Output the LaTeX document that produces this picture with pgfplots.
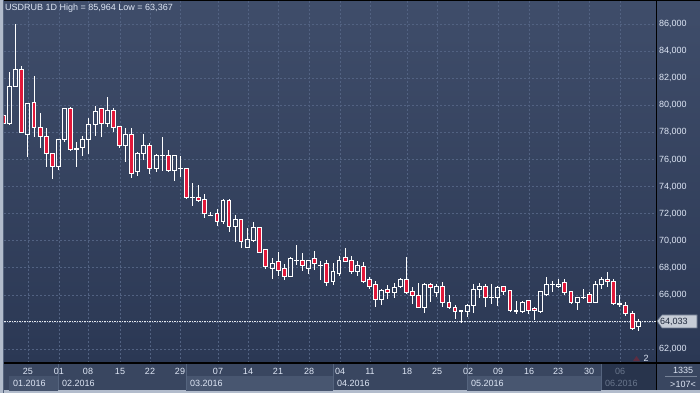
\documentclass[border=0pt]{standalone}
\usepackage{fontspec}
\setmainfont{Liberation Sans}
\usepackage{pgfplots}
\pgfplotsset{compat=1.18}
\usepackage{pgfplotstable}
\definecolor{bgtop}{RGB}{63,77,106}
\definecolor{bgbot}{RGB}{43,56,84}
\definecolor{gridc}{RGB}{82,98,130}
\definecolor{txt}{RGB}{222,230,245}
\definecolor{candred}{RGB}{226,24,58}
\definecolor{band}{RGB}{57,70,96}
\definecolor{bandlight}{RGB}{72,86,112}
\definecolor{banddark}{RGB}{40,52,76}
\definecolor{frame}{RGB}{178,188,204}
\definecolor{greytxt}{RGB}{105,118,140}
\definecolor{divider}{RGB}{85,100,126}
\definecolor{tagfill}{RGB}{198,204,214}
\definecolor{tagtxt}{RGB}{28,38,58}
\definecolor{markc}{RGB}{95,45,65}

\pgfplotstableread{
x o h l c
4 79.28 79.35 78.60 78.69
9.5 78.62 82.46 78.55 81.35
15.3 81.35 85.964 81.35 82.61
21.3 82.61 82.90 77.96 77.96
27.3 77.88 80.17 76.18 80.10
34 80.17 82.16 77.66 78.33
40.3 78.33 79.43 76.85 77.66
46.3 77.66 78.33 75.45 76.41
52.3 76.41 76.41 74.56 75.45
58.3 75.45 77.51 75.23 77.44
64.3 77.44 79.80 77.29 79.73
70.3 79.73 79.87 76.63 76.70
76.3 76.80 77.29 75.45 76.75
82.3 76.85 77.73 76.26 77.51
88.3 77.51 79.06 76.41 78.55
95.3 78.55 79.95 77.73 79.51
101.3 79.73 79.80 77.66 78.62
107.3 78.62 80.61 78.40 79.65
113.3 79.65 79.80 78.03 78.33
119.3 78.40 78.40 76.85 77.00
125.3 77.00 78.33 75.82 77.88
131.7 77.88 78.33 74.64 75.00
137.3 75.08 76.55 74.78 76.41
143.3 76.41 77.88 75.96 77.00
149.3 77.00 77.22 74.93 75.30
156.3 75.30 76.41 75.08 76.33
162.3 76.26 77.66 75.15 76.30
168.3 76.26 76.70 75.08 75.15
174.3 75.15 76.26 74.41 76.26
180.3 75.30 76.26 74.71 75.33
186.3 75.30 75.30 73.09 73.16
192.3 73.23 74.27 72.57 73.20
198.3 73.16 74.12 72.86 72.94
204.3 73.01 73.45 71.68 71.98
210.3 71.90 72.13 71.83 71.88
217 72.05 72.35 71.09 71.39
223 71.39 73.09 71.24 72.94
229 72.94 73.09 70.65 71.02
235.3 71.02 71.90 69.91 71.54
241 71.54 71.61 69.47 69.91
247.3 69.54 70.95 69.54 70.06
253.3 69.99 71.39 69.91 70.95
259.3 70.95 71.02 69.10 69.17
265.3 69.32 69.40 67.92 68.07
272.3 67.99 68.73 67.18 68.36
278.3 68.44 69.17 67.40 67.77
284.3 67.92 68.29 67.11 67.40
290.3 67.40 68.80 67.33 68.66
296.3 68.58 69.69 68.21 68.55
302.3 68.51 69.10 67.77 68.14
308.3 67.92 68.58 67.55 68.58
314.3 68.66 69.25 67.85 68.29
320.3 68.21 68.51 67.11 68.19
326.3 68.29 68.58 66.66 66.89
333 67.03 68.36 66.74 67.70
339 67.62 68.88 67.40 68.58
345.3 68.73 69.47 68.44 68.44
351.3 68.51 68.88 67.55 67.70
357.3 67.70 68.51 67.40 68.14
363.3 68.07 68.44 66.89 67.03
369.3 67.11 67.33 66.44 66.59
375.3 66.74 67.03 65.11 65.63
381.3 65.63 66.44 65.26 66.30
387.3 66.37 66.74 65.71 66.15
394.3 66.15 66.89 65.78 66.52
400.3 66.59 67.25 66.52 67.11
406.3 67.11 68.80 66.07 66.15
412.3 66.22 66.59 65.34 65.93
418.3 65.93 66.89 65.04 65.11
424.3 65.11 66.89 64.67 66.74
430.3 66.74 66.89 65.48 66.52
436.3 66.15 66.81 65.85 66.59
442.3 66.59 66.96 65.11 65.41
449 65.48 66.00 64.97 65.04
455 65.11 65.26 64.23 64.75
461 64.82 64.89 63.93 64.80
467.3 64.75 65.34 64.38 65.26
473.3 65.26 66.81 64.67 66.37
479.3 66.44 66.89 65.78 66.59
485.3 66.59 66.81 65.11 65.85
491.3 65.85 66.81 65.34 65.83
497.3 65.78 66.66 65.19 66.52
503.3 66.59 66.66 66.00 66.22
510 66.30 66.37 64.75 64.89
516 64.82 65.56 64.60 64.80
522.3 64.75 65.56 64.67 65.48
528.3 65.56 65.63 64.60 64.82
534.3 64.97 65.11 64.16 64.82
540.3 64.75 66.22 64.67 66.22
546.3 66.07 67.33 65.93 66.74
552.3 66.81 67.03 66.22 66.79
558.3 66.66 67.18 66.52 66.81
564.3 66.89 67.18 66.00 66.15
571 66.22 66.30 65.34 65.41
577.3 65.41 65.85 64.89 65.85
583.3 65.85 66.44 65.71 65.83
589.3 66.07 66.22 65.41 65.48
595.3 65.48 67.03 65.48 66.74
601.3 66.74 67.33 66.44 67.11
607.3 67.11 67.70 66.59 66.96
613.3 66.96 67.18 65.26 65.34
619.3 65.34 66.00 65.11 65.32
625.3 65.26 65.48 64.45 64.67
632.3 64.67 64.82 63.42 63.56
638.3 63.64 64.23 63.367 64.033
}\ohlc

\pgfplotsset{
  common/.style={
    scale only axis, width=652pt, height=363pt,
    at={(4pt,30pt)}, anchor=south west,
    xmin=4, xmax=656, ymin=60.98, ymax=87.77,
    enlargelimits=false,
  }
}

\begin{document}
\begin{tikzpicture}[x=1pt,y=1pt]
\useasboundingbox (0,0) rectangle (700,393);
\fill[frame] (0,0) rectangle (700,393);
\fill[divider] (3,0) rectangle (4,393);
\shade[top color=bgtop, bottom color=bgbot] (4,30) rectangle (700,393);
% bottom band
\fill[band] (4,3) rectangle (700,30);
\fill[bandlight!80!band] (9,2) rectangle (58,17);
\fill[bandlight] (186,2) rectangle (333,17);
\fill[bandlight] (467,2) rectangle (601,17);
\fill[banddark] (602,3) rectangle (656,30);
\foreach \xx in {58,186,333,467,601} \draw[divider, line width=0.8pt] (\xx,3) -- (\xx,30);

\begin{axis}[common,
  axis line style={draw=none}, major tick length=0pt,
  xtick={28,59,88,120,150,180,218,248,278,309,340,370,407,437,468,498,529,558,589,620},
  xticklabels={25,01,08,15,22,29,07,14,21,28,04,11,18,25,02,09,16,23,30,{\textcolor{greytxt}{06}}},
  ytick={62,64,...,86},
  yticklabel pos=right,
  grid=major,
  major grid style={gridc, line width=0.8pt, dash pattern=on 2pt off 2pt},
  tick label style={font=\fontsize{9}{10}\selectfont, text=txt, inner sep=0pt},
  xticklabel style={anchor=north, yshift=-5pt},
  yticklabel style={anchor=west, xshift=3pt, /pgf/number format/.cd, fixed, fixed zerofill, precision=3, use comma},
  /pgf/number format/assume math mode=true,
]
\addplot[draw=none, mark=none, forget plot,
  error bars/.cd, y dir=minus, y explicit, error mark=none,
  error bar style={white, line width=1pt}]
  table[x=x, y expr={min(\thisrow{o},\thisrow{c})}, y error minus expr={min(\thisrow{o},\thisrow{c})-\thisrow{l}}] {\ohlc};
\addplot[draw=none, mark=none, forget plot,
  error bars/.cd, y dir=plus, y explicit, error mark=none,
  error bar style={white, line width=1pt}]
  table[x=x, y expr={max(\thisrow{o},\thisrow{c})}, y error plus expr={\thisrow{h}-max(\thisrow{o},\thisrow{c})}] {\ohlc};
\addplot[white!85!gridc, line width=0.8pt, dash pattern=on 1.5pt off 1pt, forget plot] coordinates {(4,64.033) (656,64.033)};
\end{axis}

\begin{axis}[common, hide axis, ybar stacked, bar width=3.6pt]
\addplot[draw=none, fill=none] table[x=x, y expr={min(\thisrow{o},\thisrow{c})}] {\ohlc};
\addplot[draw=white, fill=candred, line width=1pt] table[x=x, y expr={ifthenelse(\thisrow{o}>\thisrow{c},\thisrow{o}-\thisrow{c},0)}] {\ohlc};
\addplot[draw=white, fill=none, line width=1pt] table[x=x, y expr={ifthenelse(\thisrow{o}>\thisrow{c},0,\thisrow{c}-\thisrow{o})}] {\ohlc};
\end{axis}

% frame lines
\draw[black, line width=1pt] (4,392.5) -- (700,392.5);
\draw[black, line width=1.2pt] (4,30) -- (700,30);
\draw[black, line width=1pt] (656,3) -- (656,393);

% title
\node[anchor=north west, inner sep=0pt, text=txt, font=\fontsize{9}{10}\selectfont] at (5,389) {USDRUB 1D High = 85,964 Low = 63,367};

% month labels
\begin{scope}[every node/.style={anchor=west, inner sep=0pt, text=txt, font=\fontsize{9}{10}\selectfont}]
\node at (13,10) {01.2016};
\node at (62,10) {02.2016};
\node at (190,10) {03.2016};
\node at (337,10) {04.2016};
\node at (471,10) {05.2016};
\node[text=greytxt] at (605,10) {06.2016};
\end{scope}

% price tag
\fill[tagfill, draw=greytxt, line width=0.6pt] (657,72) -- (662,78) -- (697,78) -- (697,65) -- (662,65) -- cycle;
\node[anchor=west, inner sep=0pt, text=tagtxt, font=\fontsize{9}{10}\selectfont] at (660,71.5) {64,033};

% bottom right box
\node[inner sep=0pt, text=txt, font=\fontsize{9}{10}\selectfont] at (683,23) {1335};
\draw[divider!80!white, line width=0.6pt] (665,16.5) -- (697,16.5);
\node[inner sep=0pt, text=txt, font=\fontsize{9}{10}\selectfont] at (683,9) {>107<};

% small marker
\fill[markc] (633,32) -- (640,32) -- (636.5,37) -- cycle;
\node[inner sep=0pt, text=txt, font=\fontsize{9}{10}\selectfont] at (646,35) {2};
\end{tikzpicture}
\end{document}
